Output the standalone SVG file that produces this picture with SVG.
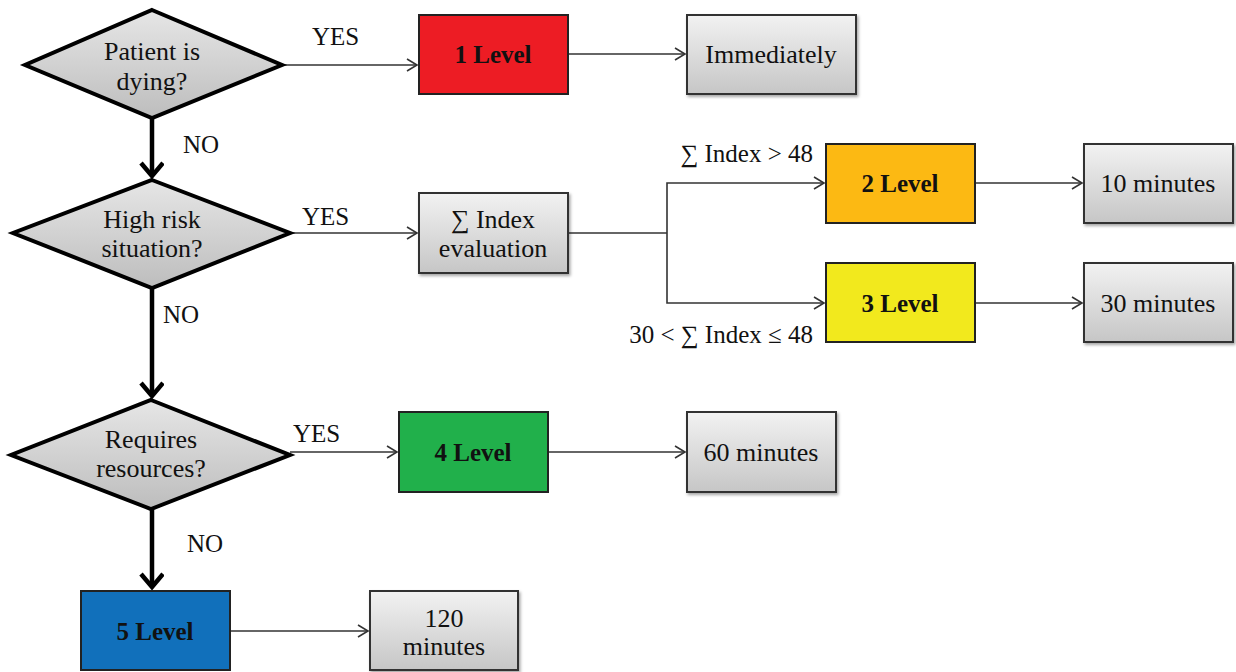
<svg xmlns="http://www.w3.org/2000/svg" width="1236" height="672" viewBox="0 0 1236 672">
  <defs>
    <linearGradient id="gGray" x1="0" y1="0" x2="0" y2="1">
      <stop offset="0" stop-color="#f2f2f2"/>
      <stop offset="1" stop-color="#c6c6c6"/>
    </linearGradient>
    <linearGradient id="gDiamond" x1="0" y1="0" x2="0" y2="1">
      <stop offset="0" stop-color="#e6e6e6"/>
      <stop offset="1" stop-color="#bdbdbd"/>
    </linearGradient>
    <filter id="shadow" x="-10%" y="-10%" width="130%" height="130%">
      <feDropShadow dx="1.5" dy="2" stdDeviation="1.5" flood-color="#000" flood-opacity="0.35"/>
    </filter>
    <marker id="thinHead" markerUnits="userSpaceOnUse" markerWidth="14" markerHeight="16" refX="11" refY="7" orient="auto">
      <path d="M1,1 L11,7 L1,13" fill="none" stroke="#333" stroke-width="1.6"/>
    </marker>
    <marker id="thickHead" markerUnits="userSpaceOnUse" markerWidth="20" markerHeight="28" refX="15" refY="12" orient="auto">
      <path d="M2,1 L15,12 L2,23" fill="none" stroke="#000" stroke-width="4.5" stroke-linejoin="miter"/>
    </marker>
    <style>
      .dia { fill: url(#gDiamond); stroke: #000; stroke-width: 4; stroke-linejoin: miter; }
      .gray { fill: url(#gGray); stroke: #333; stroke-width: 2; filter: url(#shadow); }
      .lvl { stroke: #222; stroke-width: 2; }
      .txt { font-family: "Liberation Serif", "Times New Roman", serif; font-size: 26px; fill: #111; text-anchor: middle; }
      .bold { font-weight: bold; font-size: 25px; }
      .lbl { font-family: "Liberation Serif", "Times New Roman", serif; font-size: 25px; fill: #111; }
      .thin { fill: none; stroke: #333; stroke-width: 1.6; marker-end: url(#thinHead); }
      .plain { fill: none; stroke: #333; stroke-width: 1.6; }
      .thick { fill: none; stroke: #000; stroke-width: 4.5; marker-end: url(#thickHead); }
    </style>
  </defs>

  <rect width="1236" height="672" fill="#fff"/>

  <!-- connectors -->
  <g id="connectors">
    <path class="thin" d="M282,65 H417"/>
    <path class="thin" d="M568,54 H685"/>
    <path class="thick" d="M152,118 V176"/>
    <path class="thin" d="M290,233 H417"/>
    <path class="plain" d="M568,233 H667"/>
    <path class="thin" d="M667,233 V183 H824"/>
    <path class="thin" d="M667,233 V303 H824"/>
    <path class="thin" d="M975,183 H1082"/>
    <path class="thin" d="M975,303 H1082"/>
    <path class="thick" d="M152,288 V396"/>
    <path class="thin" d="M290,452 H397"/>
    <path class="thin" d="M548,452 H685"/>
    <path class="thick" d="M152,510 V587"/>
    <path class="thin" d="M230,631 H368"/>

    <text class="lbl" x="312" y="45">YES</text>
    <text class="lbl" x="183" y="153">NO</text>
    <text class="lbl" x="302" y="225">YES</text>
    <text class="lbl" x="163" y="323">NO</text>
    <text class="lbl" x="293" y="442">YES</text>
    <text class="lbl" x="187" y="552">NO</text>
    <text class="lbl" x="813" y="162" text-anchor="end">∑ Index &gt; 48</text>
    <text class="lbl" x="813" y="343" text-anchor="end">30 &lt; ∑ Index ≤ 48</text>
  </g>

  <!-- decisions -->
  <g id="dying">
    <polygon class="dia" points="152,10 282,65 152,118 25,65"/>
    <text class="txt" x="152" y="60">Patient is</text>
    <text class="txt" x="152" y="90">dying?</text>
  </g>
  <g id="highRisk">
    <polygon class="dia" points="152,180 290,233 152,288 13,233"/>
    <text class="txt" x="152" y="228">High risk</text>
    <text class="txt" x="152" y="257">situation?</text>
  </g>
  <g id="resources">
    <polygon class="dia" points="151,400 290,455 151,509 11,455"/>
    <text class="txt" x="151" y="448">Requires</text>
    <text class="txt" x="151" y="477">resources?</text>
  </g>

  <!-- process boxes -->
  <g id="indexEval">
    <rect class="gray" x="419" y="193" width="149" height="80"/>
    <text class="txt" x="493" y="228">∑ Index</text>
    <text class="txt" x="493" y="257">evaluation</text>
  </g>

  <!-- triage levels -->
  <g id="level1">
    <rect class="lvl" x="419" y="15" width="149" height="79" fill="#ed1c24"/>
    <text class="txt bold" x="493" y="63">1 Level</text>
  </g>
  <g id="level2">
    <rect class="lvl" x="826" y="144" width="149" height="79" fill="#fcb913"/>
    <text class="txt bold" x="900" y="192">2 Level</text>
  </g>
  <g id="level3">
    <rect class="lvl" x="826" y="263" width="149" height="79" fill="#f2e91d"/>
    <text class="txt bold" x="900" y="312">3 Level</text>
  </g>
  <g id="level4">
    <rect class="lvl" x="399" y="412" width="149" height="80" fill="#21b04b"/>
    <text class="txt bold" x="473" y="461">4 Level</text>
  </g>
  <g id="level5">
    <rect class="lvl" x="81" y="591" width="149" height="79" fill="#1170bb"/>
    <text class="txt bold" x="155" y="640">5 Level</text>
  </g>

  <!-- waiting times -->
  <g id="timeImmediate">
    <rect class="gray" x="687" y="15" width="169" height="79"/>
    <text class="txt" x="771" y="63">Immediately</text>
  </g>
  <g id="time10">
    <rect class="gray" x="1084" y="144" width="149" height="79"/>
    <text class="txt" x="1158" y="192">10 minutes</text>
  </g>
  <g id="time30">
    <rect class="gray" x="1084" y="263" width="149" height="79"/>
    <text class="txt" x="1158" y="312">30 minutes</text>
  </g>
  <g id="time60">
    <rect class="gray" x="687" y="412" width="149" height="80"/>
    <text class="txt" x="761" y="461">60 minutes</text>
  </g>
  <g id="time120">
    <rect class="gray" x="370" y="591" width="148" height="79"/>
    <text class="txt" x="444" y="627">120</text>
    <text class="txt" x="444" y="655">minutes</text>
  </g>
</svg>
